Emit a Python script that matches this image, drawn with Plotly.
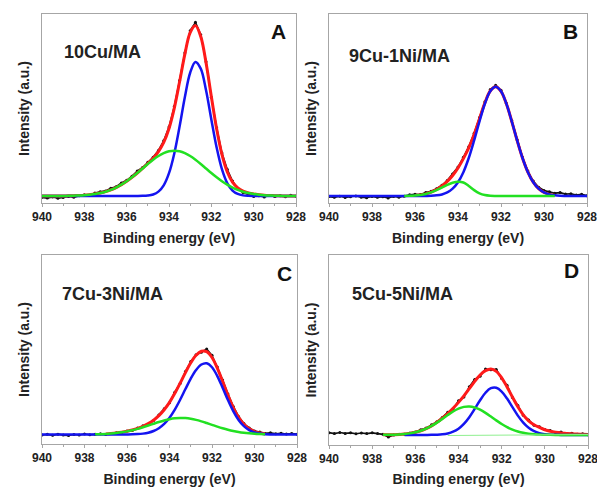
import plotly.graph_objects as go

N = None
# Binding energy grid (eV)
E = [940.0, 939.75, 939.5, 939.25, 939.0, 938.75, 938.5, 938.25, 938.0, 937.75, 937.5, 937.25,
     937.0, 936.75, 936.5, 936.25, 936.0, 935.75, 935.5, 935.25, 935.0, 934.75, 934.5, 934.25,
     934.0, 933.75, 933.5, 933.25, 933.0, 932.75, 932.5, 932.25, 932.0, 931.75, 931.5, 931.25,
     931.0, 930.75, 930.5, 930.25, 930.0, 929.75, 929.5, 929.25, 929.0, 928.75, 928.5, 928.25, 928.0]
X_TICKS = [940, 938, 936, 934, 932, 930, 928]

SAMPLES = ["10Cu/MA", "9Cu-1Ni/MA", "7Cu-3Ni/MA", "5Cu-5Ni/MA"]
LETTERS = ["A", "B", "C", "D"]

# ---- Panel A ----
A_DATA = [3.0, 2.6, 3.2, 2.5, 2.9, 3.4, 3.1, 3.8, 4.3, 4.1, 5.3, 5.9, 6.4, 7.8, 8.6, 10.6, 12.0, 14.2,
          16.9, 18.8, 21.5, 24.2, 27.8, 32.9, 40.2, 51.0, 64.8, 79.5, 91.2, 95.6, 89.0, 74.8, 56.0, 39.8,
          26.4, 17.8, 11.6, 7.6, 5.6, 4.6, 3.5, 3.9, 3.2, 4.0, 3.4, 3.9, 3.3, 4.1, 3.6]
A_FIT = [3.70, 3.71, 3.72, 3.73, 3.75, 3.79, 3.86, 3.97, 4.13, 4.39, 4.75, 5.28, 5.99, 6.95, 8.17, 9.69,
         11.49, 13.57, 15.87, 18.33, 20.92, 23.74, 27.19, 32.05, 39.44, 50.24, 64.14, 78.80, 90.11, 93.85,
         88.04, 74.17, 56.38, 39.24, 25.69, 16.55, 11.07, 8.02, 6.33, 5.38, 4.77, 4.39, 4.13, 3.97, 3.86,
         3.79, 3.75, 3.73, 3.72]
A_P1 = [3.70, 3.70, 3.70, 3.70, 3.70, 3.70, 3.70, 3.70, 3.70, 3.70, 3.70, 3.70, 3.70, 3.70, 3.70, 3.70,
        3.70, 3.70, 3.72, 3.77, 3.96, 4.52, 6.01, 9.35, 15.77, 26.24, 40.47, 56.10, 68.93, 74.63, 71.08,
        59.61, 44.23, 29.37, 17.90, 10.56, 6.60, 4.77, 4.04, 3.80, 3.72, 3.70, 3.70, 3.70, 3.70, 3.70,
        3.70, 3.70, 3.70]
A_P2 = [3.70, 3.71, 3.72, 3.73, 3.75, 3.79, 3.86, 3.97, 4.13, 4.39, 4.75, 5.28, 5.99, 6.95, 8.17, 9.69,
        11.49, 13.57, 15.85, 18.26, 20.66, 22.92, 24.88, 26.40, 27.37, 27.70, 27.37, 26.40, 24.88, 22.92,
        20.66, 18.26, 15.85, 13.57, 11.49, 9.69, 8.17, 6.95, 5.99, 5.28, 4.75, 4.39, 4.13, 3.97, 3.86,
        3.79, 3.75, 3.73, 3.72]

# ---- Panel B ----
B_DATA = [3.4, 3.0, 3.6, 2.9, 3.3, 3.7, 3.1, 2.8, 3.5, 3.0, 3.3, 2.7, 3.4, 3.1, 3.6, 4.4, 4.6, 4.5,
          5.6, 6.2, 7.6, 9.4, 11.9, 15.3, 19.0, 24.2, 29.8, 36.9, 45.3, 53.6, 60.1, 62.3, 59.6, 52.8,
          43.6, 33.4, 24.2, 16.9, 11.6, 8.3, 6.6, 5.9, 5.2, 5.5, 4.7, 4.9, 4.2, 4.6, 3.9]
B_FIT = [N, N, N, N, N, N, N, N, N, N, N, N, N, N, N, N,
         3.96, 4.27, 4.83, 5.74, 7.11, 8.98, 11.42, 14.55, 18.55, 23.49, 29.14, 36.20, 44.62, 53.00,
         59.24, 61.53, 59.11, 52.51, 43.22, 33.10, 23.80, 16.32, 10.99, 7.57, 5.58, 4.54, 4.05,
         N, N, N, N, N, N]
B_P1 = [3.70, 3.70, 3.70, 3.70, 3.70, 3.70, 3.70, 3.70, 3.70, 3.70, 3.70, 3.70, 3.70, 3.70, 3.70, 3.70,
        3.70, 3.71, 3.75, 3.83, 4.05, 4.54, 5.58, 7.57, 10.99, 16.32, 23.80, 33.10, 43.22, 52.51, 59.11,
        61.50, 59.11, 52.51, 43.22, 33.10, 23.80, 16.32, 10.99, 7.57, 5.58, 4.54, 4.05, 3.83, 3.75, 3.71,
        3.70, 3.70, 3.70]
B_P2 = [N, N, N, N, N, N, N, N, N, N, N, N, N, N,
        3.74, 3.81, 3.96, 4.26, 4.78, 5.61, 6.76, 8.14, 9.54, 10.68, 11.26, 10.87, 9.04, 6.80, 5.10,
        4.19, 3.83, 3.73, 3.70, 3.70, 3.70, 3.70, 3.70, 3.70, 3.70, 3.70, 3.70, 3.70, 3.70,
        N, N, N, N, N, N]

# ---- Panel C ----
C_DATA = [4.8, 5.1, 4.6, 5.2, 4.7, 4.5, 5.0, 4.8, 5.3, 4.9, 5.1, 5.4, 5.0, 5.6, 5.9, 6.0, 6.9, 7.2,
          8.4, 9.6, 10.5, 12.4, 15.3, 18.6, 21.8, 27.4, 32.0, 38.3, 43.6, 47.2, 48.6, 50.3, 46.9, 40.7,
          33.8, 26.4, 19.9, 14.6, 10.8, 8.5, 6.9, 6.3, 5.6, 5.9, 5.4, 5.7, 5.3, 5.5, 5.2]
C_FIT = [N, N, N, N, N, N, N, N, N, N, N, N,
         5.35, 5.55, 5.83, 6.21, 6.72, 7.38, 8.24, 9.34, 10.76, 12.60, 15.00, 18.12, 22.06, 26.81,
         32.19, 37.78, 42.95, 46.93, 49.04, 48.83, 45.77, 40.16, 33.11, 25.81, 19.28, 14.10, 10.41,
         8.01, 6.57, 5.79, 5.37,
         N, N, N, N, N, N]
C_P1 = [5.00, 5.00, 5.00, 5.00, 5.00, 5.00, 5.00, 5.00, 5.00, 5.00, 5.00, 5.00, 5.00, 5.00,
        5.01, 5.02, 5.04, 5.10, 5.23, 5.49, 5.99, 6.88, 8.36, 10.65, 13.91, 18.21, 23.40, 29.07, 34.59,
        39.16, 42.05, 42.74, 40.62, 35.95, 29.77, 23.25, 17.38, 12.73, 9.45, 7.36, 6.15, 5.52, 5.21,
        5.08, 5.03, 5.01, 5.00, 5.00, 5.00]
C_P2 = [N, N, N, N, N, N, N, N, N, N,
        5.13, 5.22, 5.35, 5.55, 5.82, 6.19, 6.68, 7.28, 8.01, 8.85, 9.77, 10.72, 11.64, 12.47, 13.15,
        13.60, 13.79, 13.71, 13.36, 12.77, 11.99, 11.09, 10.15, 9.21, 8.34, 7.56, 6.90, 6.37, 5.96,
        5.65, 5.42, 5.27, 5.16,
        N, N, N, N, N, N]

# ---- Panel D ----
D_DATA = [6.5, 6.0, 6.6, 6.1, 6.4, 5.9, 6.3, 6.0, 6.4, 6.1, 5.6, 4.2, 5.3, 5.6, 5.7, 6.3, 6.9, 8.0,
          8.9, 10.6, 12.2, 14.5, 17.2, 19.0, 23.3, 25.2, 30.6, 34.5, 36.2, 40.0, 39.6, 39.8, 35.0, 31.4,
          25.0, 20.8, 15.6, 13.2, 10.4, 9.6, 8.1, 7.6, 6.5, 6.8, 5.9, 6.2, 5.6, 5.9, 5.4]
D_FIT = [N, N, N, N, N, N, N, N, N, N,
         5.33, 5.36, 5.43, 5.55, 5.77, 6.12, 6.67, 7.48, 8.62, 10.09, 11.93, 14.09, 16.57, 19.35,
         22.44, 25.88, 29.64, 33.46, 36.86, 39.11, 40.06, 38.77, 35.38, 30.55, 25.22, 20.09, 15.87,
         12.69, 10.63, 9.24, 8.01, 7.21, 6.68, 6.33, 6.11, 5.90, 5.75, 5.65, 5.55]
D_P1 = [N, N, N, N, N, N, N, N, N, N, N, N, N, N,
        5.30, 5.30, 5.30, 5.30, 5.32, 5.35, 5.44, 5.64, 6.10, 7.01, 8.60, 11.12, 14.65, 18.99, 23.56,
        27.49, 29.89, 30.12, 28.12, 24.43, 19.91, 15.47, 11.75, 9.03, 7.26, 6.24, 5.71, 5.46, 5.36,
        5.32, 5.31, 5.30, 5.30, 5.30, 5.30]
D_P2 = [N, N, N, N, N, N, N, N, N, N,
        5.33, 5.36, 5.43, 5.55, 5.77, 6.12, 6.67, 7.48, 8.60, 10.04, 11.79, 13.75, 15.77, 17.64,
        19.14, 20.06, 20.29, 19.77, 18.60, 16.92, 14.97, 12.95, 11.06, 9.42, 8.11, 7.12, 6.42, 5.96,
        5.67, 5.50, 5.40, 5.35, 5.32, 5.31, 5.30, 5.30, 5.30, 5.30, 5.30]
D_BG_X = [934.5, 928.0]
D_BG = [5.0, 5.5]

PANELS = [
    (A_DATA, A_FIT, A_P1, A_P2),
    (B_DATA, B_FIT, B_P1, B_P2),
    (C_DATA, C_FIT, C_P1, C_P2),
    (D_DATA, D_FIT, D_P1, D_P2),
]
for arrs in PANELS:
    for a in arrs:
        if len(a) != len(E):
            raise ValueError("length mismatch")

W, H = 597, 487
# plot boxes in pixels: (left, right, top, bottom)
BOXES = [(42, 296, 14, 203), (329, 587, 14, 203), (42, 297, 255, 444), (329, 588, 255, 445)]

FONT = "Liberation Sans, Arial, sans-serif"
C_DATA_COL = "#111111"
C_FIT_COL = "#ff1a1a"
C_P1_COL = "#1414f0"
C_P2_COL = "#22e022"
AX_COL = "#a6a6a6"

fig = go.Figure()
layout = dict(width=W, height=H, margin=dict(l=0, r=0, t=0, b=0, autoexpand=False),
              paper_bgcolor="white", plot_bgcolor="white", showlegend=False)

annotations = []
for k, (data, fit, p1, p2) in enumerate(PANELS):
    xa = "x" if k == 0 else f"x{k+1}"
    ya = "y" if k == 0 else f"y{k+1}"
    fig.add_trace(go.Scatter(x=E, y=data, xaxis=xa, yaxis=ya, mode="lines+markers",
                             line=dict(color=C_DATA_COL, width=1.6),
                             marker=dict(color=C_DATA_COL, size=3)))
    fig.add_trace(go.Scatter(x=E, y=fit, xaxis=xa, yaxis=ya, mode="lines",
                             line=dict(color=C_FIT_COL, width=3, shape="spline")))
    fig.add_trace(go.Scatter(x=E, y=p1, xaxis=xa, yaxis=ya, mode="lines",
                             line=dict(color=C_P1_COL, width=2.5, shape="spline")))
    fig.add_trace(go.Scatter(x=E, y=p2, xaxis=xa, yaxis=ya, mode="lines",
                             line=dict(color=C_P2_COL, width=2.5, shape="spline")))
    if k == 3:
        fig.add_trace(go.Scatter(x=D_BG_X, y=D_BG, xaxis=xa, yaxis=ya, mode="lines",
                                 line=dict(color="#8fef8f", width=1)))

    l, r, t, b = BOXES[k]
    xkey = "xaxis" if k == 0 else f"xaxis{k+1}"
    ykey = "yaxis" if k == 0 else f"yaxis{k+1}"
    layout[xkey] = dict(
        domain=[l / W, r / W], anchor=ya, range=[940, 928], automargin=False,
        ticklabeloverflow="allow",
        tickmode="array", tickvals=X_TICKS, ticktext=[str(v) for v in X_TICKS],
        ticks="outside", ticklen=3, tickcolor=AX_COL, tickwidth=1,
        minor=dict(tickmode="linear", tick0=928, dtick=1, ticks="outside", ticklen=2, tickcolor=AX_COL),
        showline=True, linecolor=AX_COL, linewidth=1, mirror=True,
        showgrid=False, zeroline=False,
        tickfont=dict(family=FONT, size=12, color="#222222", weight="bold"),
        title=dict(text="Binding energy (eV)", standoff=9,
                   font=dict(family=FONT, size=14, color="#222222", weight="bold")),
    )
    layout[ykey] = dict(
        domain=[1 - b / H, 1 - t / H], anchor=xa, range=[0, 100], automargin=False,
        showticklabels=False, ticks="", showline=True, linecolor=AX_COL, linewidth=1, mirror=True,
        showgrid=False, zeroline=False,
        title=dict(text="Intensity (a.u.)", standoff=8,
                   font=dict(family=FONT, size=14, color="#222222", weight="bold")),
    )

# panel text positions (pixels)
NAME_POS = [(62, 52), (347, 56), (60, 294), (350, 294)]
LETTER_POS = [(278, 32), (570, 31), (284, 273), (571, 270)]
for k in range(4):
    nx, ny = NAME_POS[k]
    annotations.append(dict(x=nx / W, y=1 - ny / H, xref="paper", yref="paper", text=SAMPLES[k],
                            showarrow=False, xanchor="left", yanchor="middle",
                            font=dict(family=FONT, size=18, color="#222222", weight="bold")))
    lx, ly = LETTER_POS[k]
    annotations.append(dict(x=lx / W, y=1 - ly / H, xref="paper", yref="paper", text=LETTERS[k],
                            showarrow=False, xanchor="center", yanchor="middle",
                            font=dict(family=FONT, size=21, color="#111111", weight="bold")))
layout["annotations"] = annotations
fig.update_layout(**layout)
fig.write_html("out.html", config={"displayModeBar": False},
               post_script="document.body.style.margin='0';document.body.style.overflow='hidden';")
